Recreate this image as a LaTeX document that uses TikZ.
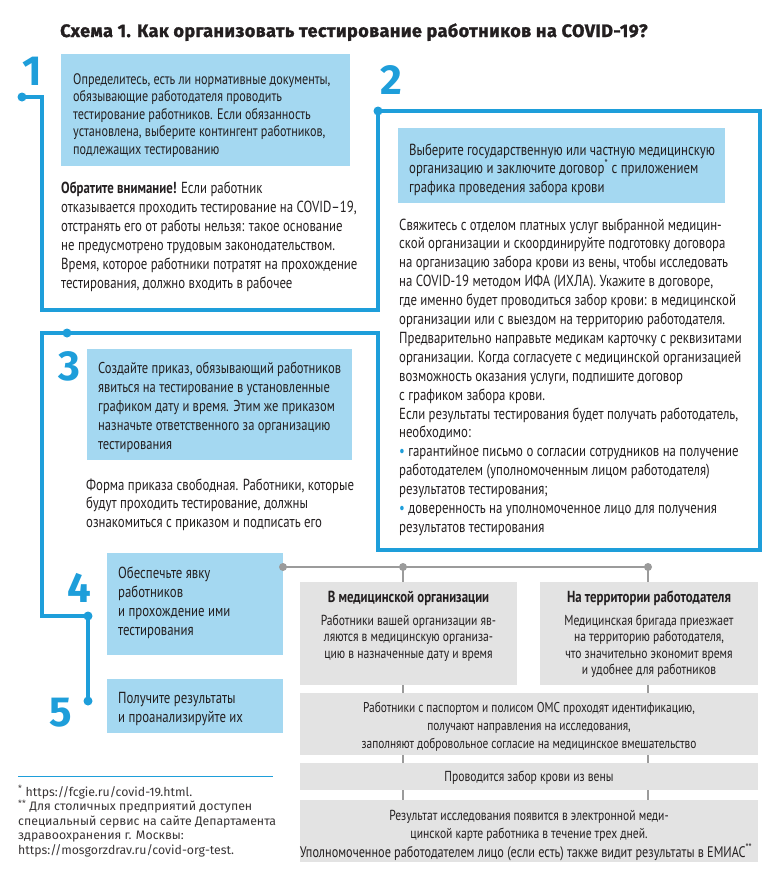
\documentclass[tikz,border=0pt]{standalone}
\usepackage{fontspec}
\newfontfamily\cf[FakeStretch=0.8]{PT Sans}
\newfontfamily\tf{Fira Sans}
\newfontfamily\titf[LetterSpace=2.5,FakeBold=1.5]{Fira Sans}
\newfontfamily\fnf{Fira Sans}
\definecolor{cblue}{RGB}{30,158,218}
\definecolor{clight}{RGB}{164,216,241}
\definecolor{cgbox}{RGB}{227,227,227}
\definecolor{cgray}{RGB}{155,155,155}
\definecolor{ctext}{RGB}{35,31,32}
\begin{document}
\begin{tikzpicture}[x=1pt,y=-1pt,
 txt/.style={inner sep=0pt, text=ctext, font=\cf\fontsize{16}{18}\selectfont},
 small/.style={inner sep=0pt, text=ctext, font=\cf\fontsize{14.5}{16}\selectfont},
 ghead/.style={inner sep=0pt, text=ctext, anchor=base, font=\cf\bfseries\fontsize{16}{18}\selectfont},
 num/.style={inner sep=0pt, text=cblue, font=\tf\bfseries\fontsize{42}{42}\selectfont, anchor=base},
 lbox/.style={fill=clight, draw=none, inner sep=0pt, anchor=north west},
 gbox/.style={fill=cgbox, draw=none, inner sep=0pt, anchor=north west},
 frame/.style={draw=cblue, line width=4pt, line join=miter},
 bdot/.style={circle, fill=cblue, inner sep=0pt, minimum size=9pt},
 gdot/.style={circle, fill=cgray, inner sep=0pt, minimum size=8pt},
 gline/.style={draw=cgray, line width=2.5pt},
 fn/.style={inner sep=0pt, text=ctext!90, font=\fnf\fontsize{12.3}{14}\selectfont, anchor=base west},
]
\useasboundingbox (0,0) rectangle (770,878);

% title
\node[inner sep=0pt, anchor=base west, text=ctext, font=\titf\bfseries\fontsize{18}{20}\selectfont] (title) at (60,37) {Схема 1. Как организовать тестирование работников на COVID-19?};

% light blue boxes
\node[lbox, minimum width=289pt, minimum height=112pt] (b1) at (61,54) {};
\node[lbox, minimum width=327pt, minimum height=75pt] (b2) at (398,128) {};
\node[lbox, minimum width=265pt, minimum height=111pt] (b3) at (87,349) {};
\node[lbox, minimum width=176pt, minimum height=102pt] (b4) at (107,553) {};
\node[lbox, minimum width=176pt, minimum height=54pt] (b5) at (107,679) {};

% blue frame
\coordinate (f0) at (22,97);
\coordinate (f2) at (378,111);
\coordinate (f3) at (67,333);
\coordinate (f4) at (88,616);
\coordinate (f5) at (88,701);
\draw[frame] (f0) -- (42,97) -- (42,310) -- (378,310) -- (f2) -- (760,111) -- (760,550)
  -- (378,550) -- (378,333) -- (40,333) -- (42,333) -- (42,616) -- (f4) -- (f5);
\node[bdot] (d1) at (f0) {};
\node[bdot] (d2) at (f2) {};
\node[bdot] (d3) at (f3) {};
\node[bdot] (d4) at (f4) {};
\node[bdot] (d5) at (f5) {};

% numbers
\node[num] (n1) at (32,85) {1};
\node[num] (n2) at (391,94) {2};
\node[num] (n3) at (69,380) {3};
\node[num] (n4) at (79,602) {4};
\node[num] (n5) at (61,726) {5};

% box 1 text
\foreach \t [count=\i from 0] in {{Определитесь, есть ли нормативные документы,},{обязывающие работодателя проводить},{тестирование работников. Если обязанность},{установлена, выберите контингент работников,},{подлежащих тестированию}}
  \node[txt, anchor=base west, font=\cf\fontsize{15.2}{18}\selectfont] (t1\i) at (73,{84+\i*17.5}) {\t};
\foreach \t [count=\i from 0] in {{{\bfseries Обратите внимание!} Если работник},{отказывается проходить тестирование на COVID–19,},{отстранять его от работы нельзя: такое основание},{не предусмотрено трудовым законодательством.},{Время, которое работники потратят на прохождение},{тестирования, должно входить в рабочее}}
  \node[txt, anchor=base west] (u1\i) at (61,{193+\i*19}) {\t};

% box 2 text
\foreach \t [count=\i from 0] in {{Выберите государственную или частную медицинскую},{организацию и заключите договор\textsuperscript{*} с приложением},{графика проведения забора крови}}
  \node[txt, anchor=base west] (t2\i) at (409,{155+\i*18.5}) {\t};
\foreach \t [count=\i from 0] in {{Свяжитесь с отделом платных услуг выбранной медицин-},{ской организации и скоординируйте подготовку договора},{на организацию забора крови из вены, чтобы исследовать},{на COVID-19 методом ИФА (ИХЛА). Укажите в договоре,},{где именно будет проводиться забор крови: в медицинской},{организации или с выездом на территорию работодателя.},{Предварительно направьте медикам карточку с реквизитами},{организации. Когда согласуете с медицинской организацией},{возможность оказания услуги, подпишите договор},{с графиком забора крови.},{Если результаты тестирования будет получать работодатель,},{необходимо:},{{\color{cblue}•} гарантийное письмо о согласии сотрудников на получение},{работодателем (уполномоченным лицом работодателя)},{результатов тестирования;},{{\color{cblue}•} доверенность на уполномоченное лицо для получения},{результатов тестирования}}
  \node[txt, anchor=base west] (u2\i) at (399,{230+\i*18.9}) {\t};

% box 3 text
\foreach \t [count=\i from 0] in {{Создайте приказ, обязывающий работников},{явиться на тестирование в установленные},{графиком дату и время. Этим же приказом},{назначьте ответственного за организацию},{тестирования}}
  \node[txt, anchor=base west, font=\cf\fontsize{15.7}{18}\selectfont] (t3\i) at (98,{373+\i*19}) {\t};
\foreach \t [count=\i from 0] in {{Форма приказа свободная. Работники, которые},{будут проходить тестирование, должны},{ознакомиться с приказом и подписать его}}
  \node[txt, anchor=base west] (u3\i) at (86,{490+\i*18.5}) {\t};

% box 4, 5 text
\foreach \t [count=\i from 0] in {{Обеспечьте явку},{работников},{и прохождение ими},{тестирования}}
  \node[txt, anchor=base west] (t4\i) at (118,{578+\i*19}) {\t};
\foreach \t [count=\i from 0] in {{Получите результаты},{и проанализируйте их}}
  \node[txt, anchor=base west] (t5\i) at (118,{703+\i*19}) {\t};

% gray branch
\coordinate (g0) at (283,567);
\coordinate (g1) at (403,567);
\coordinate (g2) at (648,567);
\coordinate (g1e) at (403,800);
\coordinate (g2e) at (648,800);
\draw[gline] (g0) -- (g2);
\draw[gline] (g1) -- (g1e);
\draw[gline] (g2) -- (g2e);
\node[gbox, minimum width=217pt, minimum height=103pt] (gA) at (300,582) {};
\node[gbox, minimum width=218pt, minimum height=103pt] (gB) at (540,582) {};
\node[gbox, minimum width=458pt, minimum height=62pt] (gC) at (300,693) {};
\node[gbox, minimum width=458pt, minimum height=27pt] (gD) at (300,763) {};
\node[gbox, minimum width=458pt, minimum height=62pt] (gE) at (300,800) {};
\node[gdot] (gd0) at (g0) {};
\node[gdot] (gd1) at (g1) {};
\node[gdot] (gd2) at (g2) {};

\node[ghead] (hA) at (408.5,602) {В медицинской организации};
\foreach \t [count=\i from 0] in {{Работники вашей организации яв-},{ляются в медицинскую организа-},{цию в назначенные дату и время}}
  \node[small, anchor=base] (tA\i) at (408.5,{625+\i*16.5}) {\t};
\node[ghead] (hB) at (649,602) {На территории работодателя};
\foreach \t [count=\i from 0] in {{Медицинская бригада приезжает},{на территорию работодателя,},{что значительно экономит время},{и удобнее для работников}}
  \node[small, anchor=base] (tB\i) at (649,{625+\i*16.5}) {\t};
\foreach \t [count=\i from 0] in {{Работники с паспортом и полисом ОМС проходят идентификацию,},{получают направления на исследования,},{заполняют добровольное согласие на медицинское вмешательство}}
  \node[small, anchor=base, font=\cf\fontsize{14.2}{16}\selectfont] (tC\i) at (529,{712+\i*18}) {\t};
\node[small, anchor=base] (tD) at (529,781) {Проводится забор крови из вены};
\foreach \t [count=\i from 0] in {{Результат исследования появится в электронной меди-},{цинской карте работника в течение трех дней.}}
  \node[small, anchor=base] (tE\i) at (529,{820+\i*18.5}) {\t};
\node[small, anchor=base, font=\cf\fontsize{15.3}{16}\selectfont] (tE2) at (526,857) {Уполномоченное работодателем лицо (если есть) также видит результаты в ЕМИАС\textsuperscript{**}};

% footnotes
\coordinate (fl0) at (18,776);
\coordinate (fl1) at (273,776);
\draw[cblue, line width=1pt] (fl0) -- (fl1);
\foreach \t [count=\i from 0] in {{\textsuperscript{*} https://fcgie.ru/covid-19.html.},{\textsuperscript{**} Для столичных предприятий доступен},{специальный сервис на сайте Департамента},{здравоохранения г. Москвы:},{https://mosgorzdrav.ru/covid-org-test.}}
  \node[fn] (fn\i) at (18,{796+\i*14.5}) {\t};
\end{tikzpicture}
\end{document}
